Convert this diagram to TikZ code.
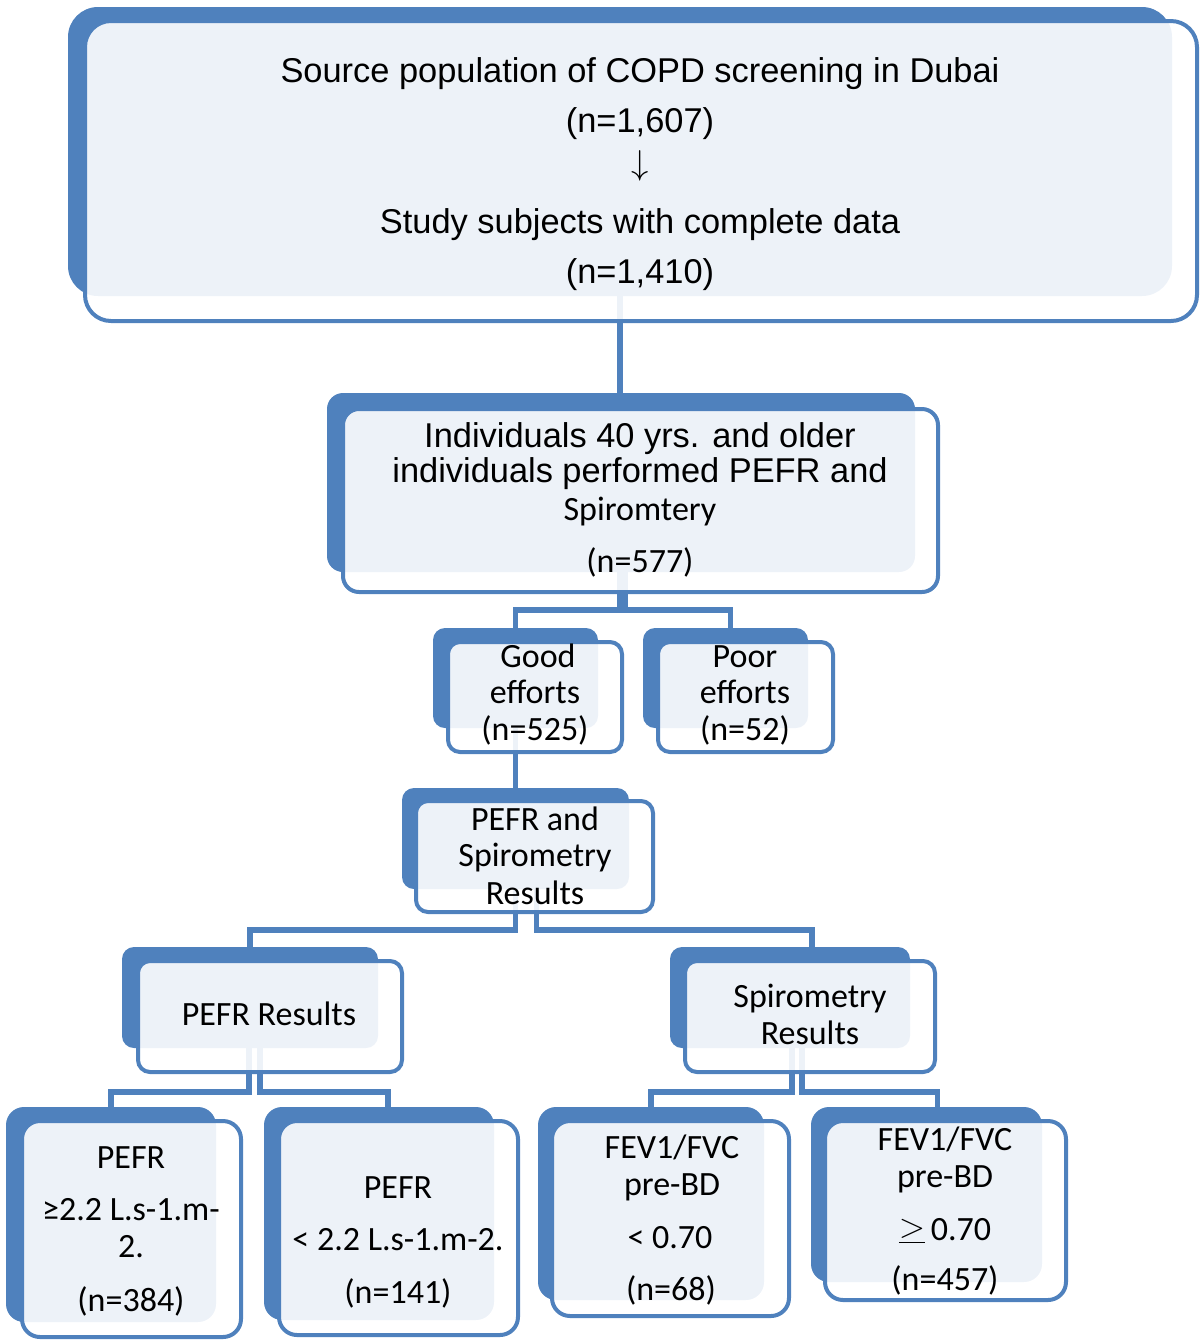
\documentclass[tikz,border=0pt]{standalone}
\usepackage{fontspec}
\setmainfont{Carlito}
\newfontfamily\arialf{Liberation Sans}
\usetikzlibrary{fit,backgrounds}
\definecolor{accent}{HTML}{4F81BD}
\tikzset{
  backbox/.style={fill=accent, draw=none, rounded corners=#1, inner sep=0pt, outer sep=0pt},
  backbox/.default=6pt,
  frontbox/.style={fill=white, fill opacity=0.9, draw=accent, draw opacity=1, line width=2pt, rounded corners=#1, inner sep=0pt, outer sep=0pt},
  frontbox/.default=6pt,
  conn/.style={draw=accent, line width=2.8pt},
  txt/.style={anchor=base, inner sep=0pt, font=\fontsize{17}{20}\selectfont},
  atxt/.style={anchor=base, inner sep=0pt, font=\arialf\fontsize{17.2}{20}\selectfont},
}
\begin{document}
\begin{tikzpicture}[x=0.5pt,y=-0.5pt]
\useasboundingbox (0,0) rectangle (1200,1341);
% boxes
\node[backbox=15pt, fit={(68,7)(1172,296)}] (topB) {};
\node[frontbox=13pt, fit={(85,21)(1197,321)}] (topF) {};
\node[backbox=8pt, fit={(327,393)(915,572)}] (secB) {};
\node[frontbox=8pt, fit={(343,409)(938,592)}] (secF) {};
\node[backbox, fit={(433,628)(598,728)}] (goodB) {};
\node[frontbox, fit={(448,642)(622,752)}] (goodF) {};
\node[backbox, fit={(643,628)(808,728)}] (poorB) {};
\node[frontbox, fit={(658,642)(833,752)}] (poorF) {};
\node[backbox, fit={(402,788)(629,889)}] (psB) {};
\node[frontbox, fit={(416,801)(653,912)}] (psF) {};
\node[backbox, fit={(122,947)(378,1048)}] (prB) {};
\node[frontbox, fit={(138,961)(402,1072)}] (prF) {};
\node[backbox, fit={(670,947)(910,1048)}] (spB) {};
\node[frontbox, fit={(685,961)(935,1072)}] (spF) {};
\node[backbox=9pt, fit={(6,1107)(216,1322)}] (b1B) {};
\node[frontbox=9pt, fit={(22,1121)(241,1337)}] (b1F) {};
\node[backbox=9pt, fit={(264,1107)(494,1320)}] (b2B) {};
\node[frontbox=9pt, fit={(279,1121)(518,1335)}] (b2F) {};
\node[backbox=9pt, fit={(538,1107)(764,1300)}] (b3B) {};
\node[frontbox=9pt, fit={(552,1121)(789,1316)}] (b3F) {};
\node[backbox=9pt, fit={(811,1107)(1042,1282)}] (b4B) {};
\node[frontbox=9pt, fit={(825,1121)(1066,1300)}] (b4F) {};
% connector routing points
\coordinate (bar1) at (0,610);
\coordinate (bar2) at (0,930);
\coordinate (bar3) at (0,1092);
\coordinate (s2a) at ([xshift=-0.5pt]secB.south);
\coordinate (s2b) at ([xshift=2pt]secB.south);
\coordinate (t2b) at ([xshift=2.5pt]poorB.north);
\coordinate (s4a) at (psB.south);
\coordinate (s4b) at ([xshift=10.5pt]psB.south);
\coordinate (t4b) at ([xshift=11pt]spB.north);
\coordinate (s5a) at ([xshift=-0.5pt]prB.south);
\coordinate (s5b) at ([xshift=5pt]prB.south);
\coordinate (t5b) at ([xshift=4.5pt]b2B.north);
\coordinate (s6a) at ([xshift=1pt]spB.south);
\coordinate (s6b) at ([xshift=6pt]spB.south);
\coordinate (t6b) at ([xshift=5.5pt]b4B.north);
\begin{scope}[on background layer]
\draw[conn] (topB.south) -- (topB.south |- secB.north);
\draw[conn] (s2a) |- (goodB.north |- bar1) -- (goodB.north);
\draw[conn] (s2b) |- (t2b |- bar1) -- (t2b);
\draw[conn] (goodB.south) -- (goodB.south |- psB.north);
\draw[conn] (s4a) |- (prB.north |- bar2) -- (prB.north);
\draw[conn] (s4b) |- (t4b |- bar2) -- (t4b);
\draw[conn] (s5a) |- (b1B.north |- bar3) -- (b1B.north);
\draw[conn] (s5b) |- (t5b |- bar3) -- (t5b);
\draw[conn] (s6a) |- (b3B.north |- bar3) -- (b3B.north);
\draw[conn] (s6b) |- (t6b |- bar3) -- (t6b);
\end{scope}
% texts
\node[atxt] (t1a) at (640,82) {Source population of COPD screening in Dubai};
\node[atxt] (t1b) at (640,132) {(n=1,607)};
\node[atxt] (t1c) at (640,174) {$\downarrow$};
\node[atxt] (t1d) at (640,233) {Study subjects with complete data};
\node[atxt] (t1e) at (640,283) {(n=1,410)};
\node[atxt] (t2a) at (640,447) {Individuals 40 yrs. and older};
\node[atxt] (t2b) at (640,482) {individuals performed PEFR and};
\node[txt] (t2c) at (640,520) {Spiromtery};
\node[txt] (t2d) at (640,572) {(n=577)};
\node[txt] (t3a) at (538,667) {Good};
\node[txt] (t3b) at (535,703) {efforts};
\node[txt] (t3c) at (535,740) {(n=525)};
\node[txt] (t4a) at (745,667) {Poor};
\node[txt] (t4b) at (745,703) {efforts};
\node[txt] (t4c) at (745,740) {(n=52)};
\node[txt] (t5a) at (535,830) {PEFR and};
\node[txt] (t5b) at (535,866) {Spirometry};
\node[txt] (t5c) at (535,904) {Results};
\node[txt] (t6a) at (269,1025) {PEFR Results};
\node[txt] (t7a) at (810,1007) {Spirometry};
\node[txt] (t7b) at (810,1044) {Results};
\node[txt] (t8a) at (131,1168) {PEFR};
\node[txt] (t8b) at (131,1220) {≥2.2 L.s-1.m-};
\node[txt] (t8c) at (131,1257) {2.};
\node[txt] (t8d) at (131,1311) {(n=384)};
\node[txt] (t9a) at (398,1198) {PEFR};
\node[txt] (t9b) at (398,1250) {< 2.2 L.s-1.m-2.};
\node[txt] (t9c) at (398,1303) {(n=141)};
\node[txt] (t10a) at (672,1158) {FEV1/FVC};
\node[txt] (t10b) at (672,1195) {pre-BD};
\node[txt] (t10c) at (670,1248) {< 0.70};
\node[txt] (t10d) at (671,1300) {(n=68)};
\node[txt] (t11a) at (945,1150) {FEV1/FVC};
\node[txt] (t11b) at (945,1187) {pre-BD};
\node[txt] (t11c) at (945,1240) {$\underline{\raisebox{1.5pt}{$>$}}$\,0.70};
\node[txt] (t11d) at (945,1290) {(n=457)};
\end{tikzpicture}
\end{document}
